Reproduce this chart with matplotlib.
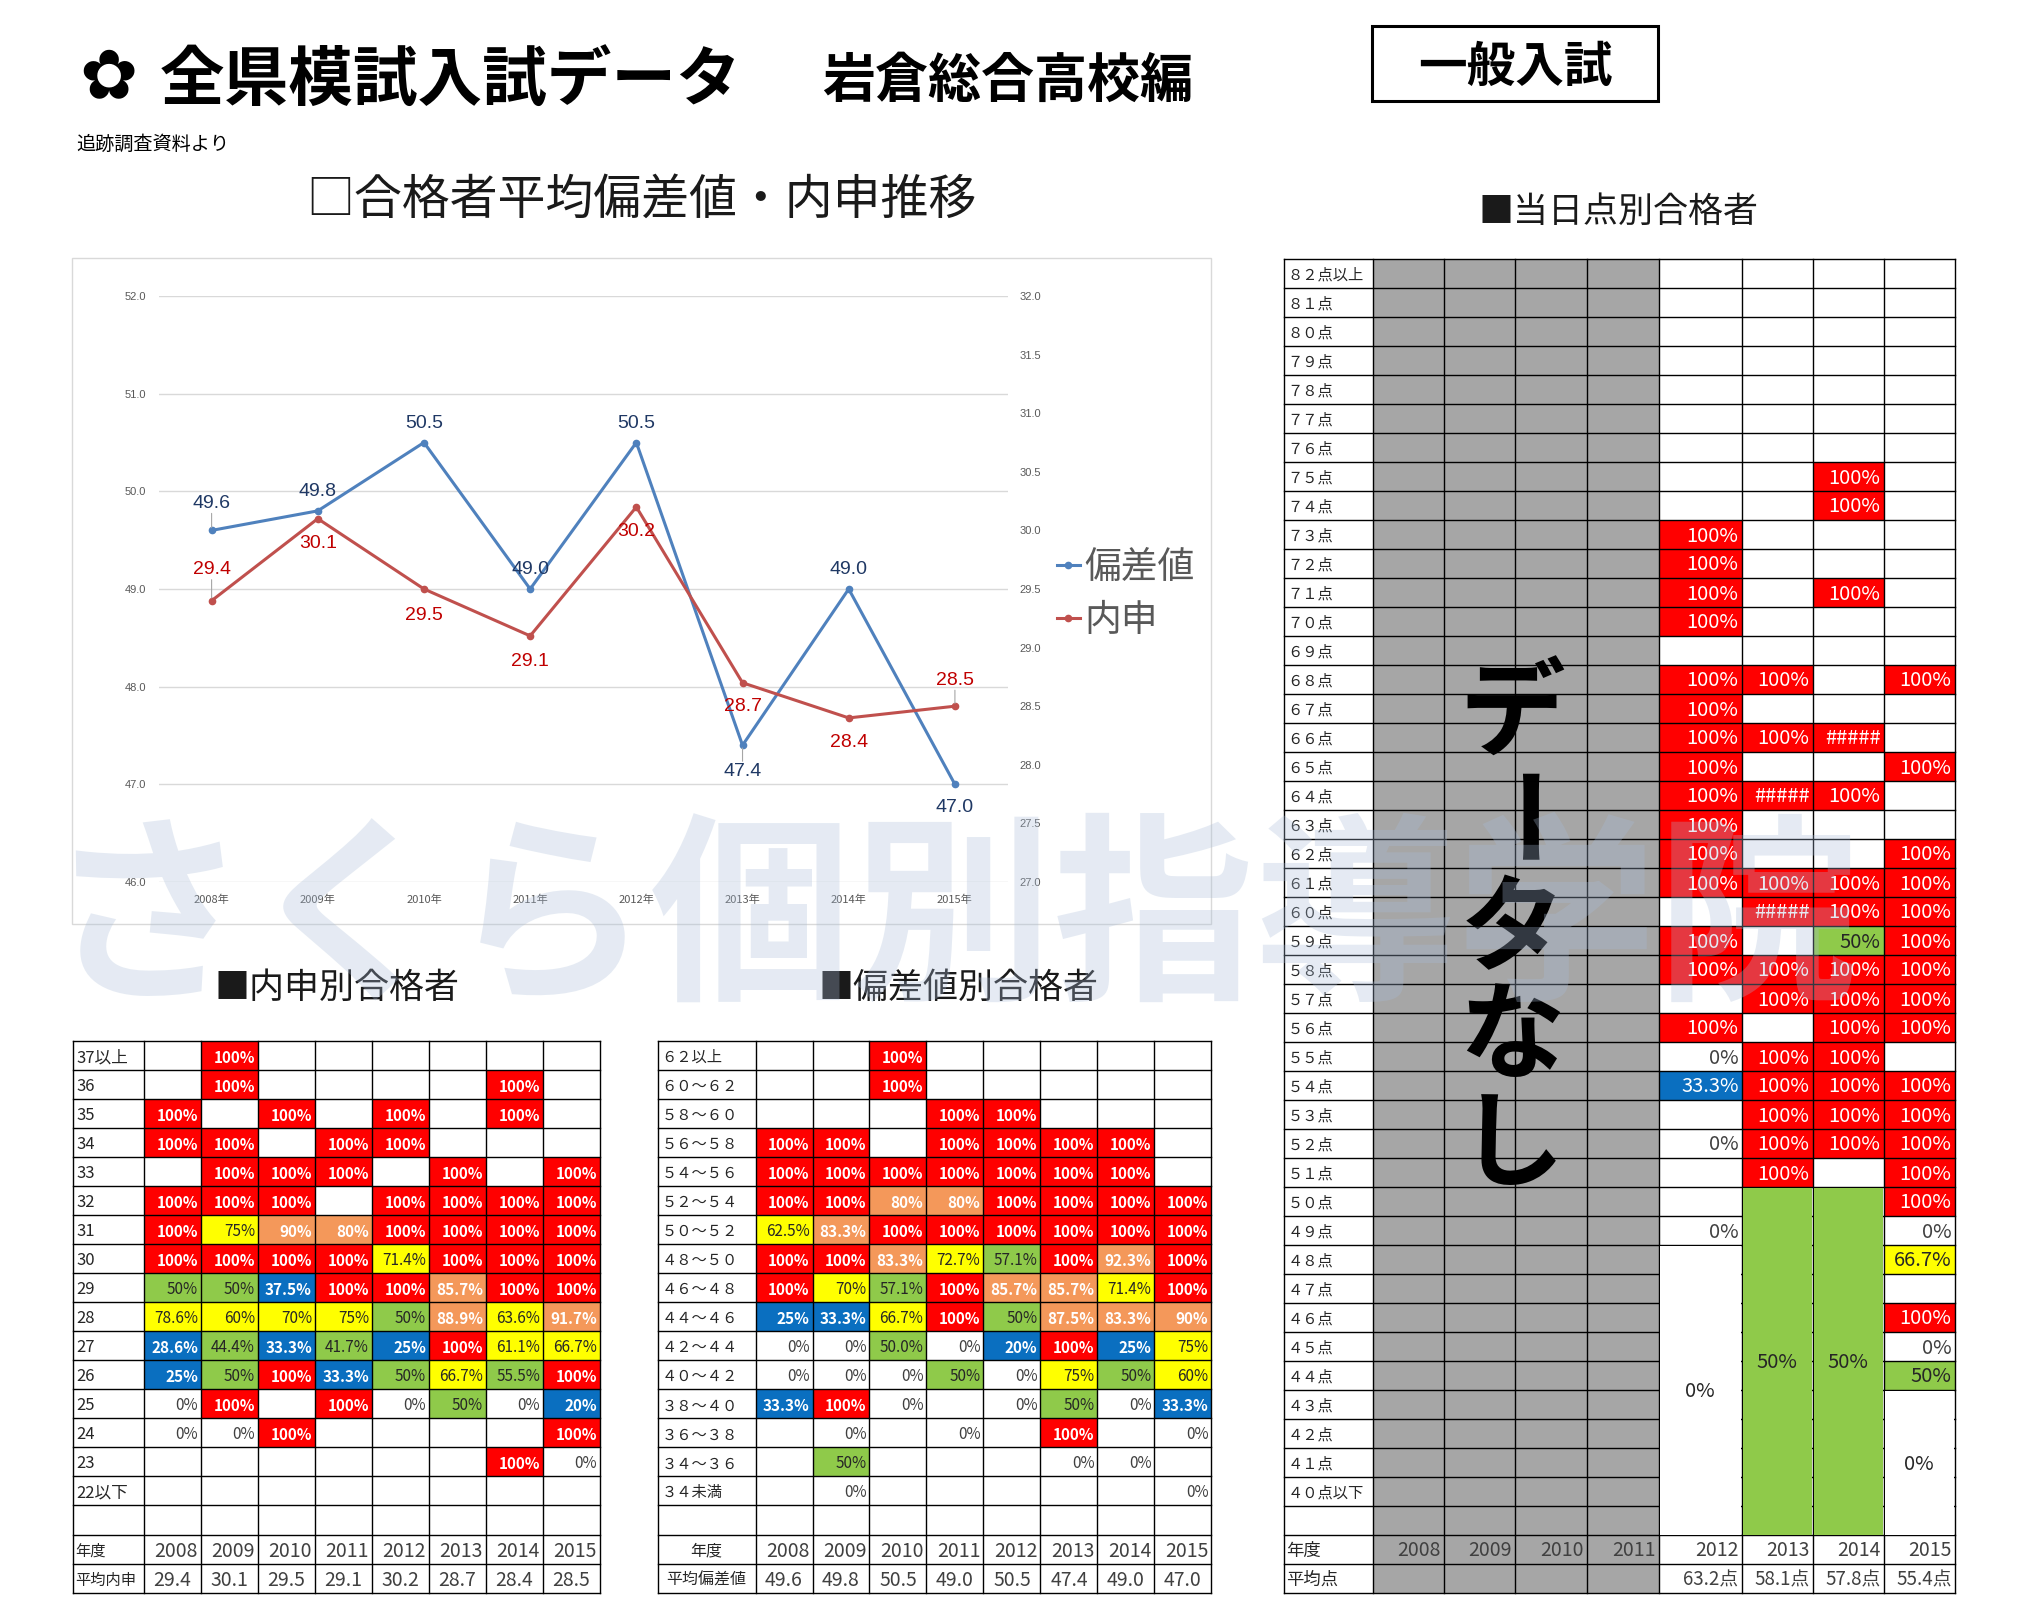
from matplotlib import pyplot as plt
from matplotlib.lines import Line2D
from matplotlib.patches import Rectangle

plt.rcParams['font.family'] = ['Noto Sans CJK JP', 'DejaVu Sans']

W, H = 2027, 1618

years = [2008, 2009, 2010, 2011, 2012, 2013, 2014, 2015]
year_labels = ['2008年', '2009年', '2010年', '2011年', '2012年', '2013年', '2014年', '2015年']
hensachi = [49.6, 49.8, 50.5, 49.0, 50.5, 47.4, 49.0, 47.0]
naishin = [29.4, 30.1, 29.5, 29.1, 30.2, 28.7, 28.4, 28.5]

naishin_rows = ['37以上', '36', '35', '34', '33', '32', '31', '30', '29', '28', '27', '26', '25', '24', '23', '22以下']
naishin_pct = [
    ['', '100%', '', '', '', '', '', ''],
    ['', '100%', '', '', '', '', '100%', ''],
    ['100%', '', '100%', '', '100%', '', '100%', ''],
    ['100%', '100%', '', '100%', '100%', '', '', ''],
    ['', '100%', '100%', '100%', '', '100%', '', '100%'],
    ['100%', '100%', '100%', '', '100%', '100%', '100%', '100%'],
    ['100%', '75%', '90%', '80%', '100%', '100%', '100%', '100%'],
    ['100%', '100%', '100%', '100%', '71.4%', '100%', '100%', '100%'],
    ['50%', '50%', '37.5%', '100%', '100%', '85.7%', '100%', '100%'],
    ['78.6%', '60%', '70%', '75%', '50%', '88.9%', '63.6%', '91.7%'],
    ['28.6%', '44.4%', '33.3%', '41.7%', '25%', '100%', '61.1%', '66.7%'],
    ['25%', '50%', '100%', '33.3%', '50%', '66.7%', '55.5%', '100%'],
    ['0%', '100%', '', '100%', '0%', '50%', '0%', '20%'],
    ['0%', '0%', '100%', '', '', '', '', '100%'],
    ['', '', '', '', '', '', '100%', '0%'],
    ['', '', '', '', '', '', '', ''],
]

hensachi_rows = ['６２以上', '６０～６２', '５８～６０', '５６～５８', '５４～５６', '５２～５４', '５０～５２', '４８～５０',
                 '４６～４８', '４４～４６', '４２～４４', '４０～４２', '３８～４０', '３６～３８', '３４～３６', '３４未満']
hensachi_pct = [
    ['', '', '100%', '', '', '', '', ''],
    ['', '', '100%', '', '', '', '', ''],
    ['', '', '', '100%', '100%', '', '', ''],
    ['100%', '100%', '', '100%', '100%', '100%', '100%', ''],
    ['100%', '100%', '100%', '100%', '100%', '100%', '100%', ''],
    ['100%', '100%', '80%', '80%', '100%', '100%', '100%', '100%'],
    ['62.5%', '83.3%', '100%', '100%', '100%', '100%', '100%', '100%'],
    ['100%', '100%', '83.3%', '72.7%', '57.1%', '100%', '92.3%', '100%'],
    ['100%', '70%', '57.1%', '100%', '85.7%', '85.7%', '71.4%', '100%'],
    ['25%', '33.3%', '66.7%', '100%', '50%', '87.5%', '83.3%', '90%'],
    ['0%', '0%', '50.0%', '0%', '20%', '100%', '25%', '75%'],
    ['0%', '0%', '0%', '50%', '0%', '75%', '50%', '60%'],
    ['33.3%', '100%', '0%', '', '0%', '50%', '0%', '33.3%'],
    ['', '0%', '', '0%', '', '100%', '', '0%'],
    ['', '50%', '', '', '', '0%', '0%', ''],
    ['', '0%', '', '', '', '', '', '0%'],
]

tokuten_rows = ['８２点以上', '８１点', '８０点', '７９点', '７８点', '７７点', '７６点', '７５点', '７４点', '７３点', '７２点',
                '７１点', '７０点', '６９点', '６８点', '６７点', '６６点', '６５点', '６４点', '６３点', '６２点', '６１点',
                '６０点', '５９点', '５８点', '５７点', '５６点', '５５点', '５４点', '５３点', '５２点', '５１点', '５０点',
                '４９点', '４８点', '４７点', '４６点', '４５点', '４４点', '４３点', '４２点', '４１点', '４０点以下']
# 2008-2011 are greyed out, only 2012-2015 hold values
tokuten_pct = [
    ['', '', '', ''], ['', '', '', ''], ['', '', '', ''], ['', '', '', ''],
    ['', '', '', ''], ['', '', '', ''], ['', '', '', ''],
    ['', '', '100%', ''],
    ['', '', '100%', ''],
    ['100%', '', '', ''],
    ['100%', '', '', ''],
    ['100%', '', '100%', ''],
    ['100%', '', '', ''],
    ['', '', '', ''],
    ['100%', '100%', '', '100%'],
    ['100%', '', '', ''],
    ['100%', '100%', '#####', ''],
    ['100%', '', '', '100%'],
    ['100%', '#####', '100%', ''],
    ['100%', '', '', ''],
    ['100%', '', '', '100%'],
    ['100%', '100%', '100%', '100%'],
    ['', '#####', '100%', '100%'],
    ['100%', '', '50%', '100%'],
    ['100%', '100%', '100%', '100%'],
    ['', '100%', '100%', '100%'],
    ['100%', '', '100%', '100%'],
    ['0%', '100%', '100%', ''],
    ['33.3%', '100%', '100%', '100%'],
    ['', '100%', '100%', '100%'],
    ['0%', '100%', '100%', '100%'],
    ['', '100%', '', '100%'],
    ['', '', '', '100%'],
    ['0%', '', '', '0%'],
    ['', '', '', '66.7%'],
    ['', '', '', ''],
    ['', '', '', '100%'],
    ['', '', '', '0%'],
    ['', '', '', '50%'],
    ['', '', '', ''], ['', '', '', ''], ['', '', '', ''], ['', '', '', ''],
]
tokuten_mean = ['', '', '', '', '63.2点', '58.1点', '57.8点', '55.4点']
# merged cells: column, first row, last row, text
tokuten_merged = [(4, 34, 43, '0%'), (5, 32, 43, '50%'), (6, 32, 43, '50%'), (7, 39, 43, '0%')]


def fx(x):
    return x / W


def fy(y):
    return 1 - y / H


def cell_color(text):
    if text == '#####':
        return '#ff0000'
    v = float(text.rstrip('%'))
    if v >= 100:
        return '#ff0000'
    if v >= 80:
        return '#f4985a'
    if v >= 60:
        return '#ffff00'
    if v >= 40:
        return '#8fca4a'
    if v > 0:
        return '#0a6fc0'
    return None


def text_color(text):
    if text == '0%':
        return '#404040'
    if cell_color(text) in ('#ffff00', '#8fca4a'):
        return '#262626'
    return 'white'


def draw_table(left, top, edges, row_h, rows, values, fs_label, fs_cell, fs_foot, mean_row, mean_label,
               center_foot=False, gray_cols=(), merged=(), mean_right=False, bold_cell=True):
    n_rows = len(rows) + 3
    right = edges[-1]
    ax = plt.axes([fx(left), fy(top + n_rows * row_h), fx(right - left), n_rows * row_h / H])
    ax.set_xlim(left, right)
    ax.set_ylim(top + n_rows * row_h, top)
    ax.axis('off')

    def y_at(r):
        return top + r * row_h

    # text sits a little high with this font
    nudge = 2

    # coloured cells
    for r, row in enumerate(values):
        for c, t in enumerate(row):
            if t and cell_color(t):
                ax.add_patch(Rectangle((edges[c + 1], y_at(r)), edges[c + 2] - edges[c + 1], row_h,
                                       fc=cell_color(t), ec='none'))
            if t:
                ax.text(edges[c + 2] - 3, y_at(r + 0.5) + nudge, t, ha='right', va='center', fontsize=fs_cell,
                        color=text_color(t), fontweight='bold' if bold_cell and text_color(t) == 'white' else 'normal')
    for c in gray_cols:
        ax.add_patch(Rectangle((edges[c + 1], top), edges[c + 2] - edges[c + 1], n_rows * row_h,
                               fc='#a6a6a6', ec='none'))

    # grid
    for e in edges:
        ax.plot([e, e], [top, y_at(n_rows)], c='black', lw=1.0, clip_on=False)
    for r in range(n_rows + 1):
        ax.plot([left, right], [y_at(r), y_at(r)], c='black', lw=1.0, clip_on=False)

    for c, r0, r1, t in merged:
        col = cell_color(t) or 'white'
        ax.add_patch(Rectangle((edges[c + 1] + 1, y_at(r0) + 1), edges[c + 2] - edges[c + 1] - 2,
                               (r1 - r0 + 1) * row_h - 1, fc=col, ec='none', zorder=3))
        ax.text((edges[c + 1] + edges[c + 2]) / 2, y_at((r0 + r1 + 1) / 2) + nudge, t, ha='center', va='center',
                fontsize=fs_cell, color='#262626', zorder=4)

    # labels and footer
    for r, lab in enumerate(rows):
        ax.text(left + 4, y_at(r + 0.5) + nudge, lab, ha='left', va='center', fontsize=fs_label, color='#262626')
    yr = len(rows) + 1
    foot_x = (left + edges[1]) / 2 if center_foot else left + 3
    foot_ha = 'center' if center_foot else 'left'
    ax.text(foot_x, y_at(yr + 0.5) + nudge, '年度', ha=foot_ha, va='center', fontsize=fs_foot, color='#262626')
    ax.text(foot_x, y_at(yr + 1.5) + nudge, mean_label, ha=foot_ha, va='center', fontsize=fs_foot, color='#262626')
    for c, year in enumerate(years):
        ax.text(edges[c + 2] - 3, y_at(yr + 0.5) + nudge, str(year), ha='right', va='center', fontsize=14, color='#404040')
        if mean_right:
            ax.text(edges[c + 2] - 3, y_at(yr + 1.5) + nudge, mean_row[c], ha='right', va='center', fontsize=13.5,
                    color='#404040')
        else:
            ax.text((edges[c + 1] + edges[c + 2]) / 2, y_at(yr + 1.5) + nudge, mean_row[c], ha='center', va='center',
                    fontsize=14, color='#404040')
    return ax


fig = plt.figure(figsize=(W / 100, H / 100), dpi=100, facecolor='white')


def put(x, y, s, size, **kw):
    kw.setdefault('ha', 'left')
    kw.setdefault('va', 'center')
    kw.setdefault('color', 'black')
    fig.text(fx(x), fy(y), s, fontsize=size, **kw)


# headings
put(108, 79, '✿', 50, ha='center', family='DejaVu Sans')
put(160, 82, '全県模試入試データ', 46.5, fontweight='bold')
put(822, 81, '岩倉総合高校編', 38.2, fontweight='bold')
fig.add_artist(Rectangle((fx(1372), fy(101)), 286 / W, 75 / H, fc='white', ec='black', lw=2.2,
                         transform=fig.transFigure))
put(1515, 67, '一般入試', 35, ha='center', fontweight='bold')
put(76, 144, '追跡調査資料より', 13.8)
put(306, 200, '□合格者平均偏差値・内申推移', 34.5, color='#1a1a1a')
put(1478, 212, '■当日点別合格者', 25.2, color='#1a1a1a')
put(214, 988, '■内申別合格者', 25.2, color='#1a1a1a')
put(819, 988, '■偏差値別合格者', 25.2, color='#1a1a1a')

# chart frame, behind the axes
fig.add_artist(Rectangle((fx(72), fy(924)), 1139 / W, 666 / H, fc='white', ec='#d9d9d9', lw=1,
                         transform=fig.transFigure, zorder=-1))

# line chart
ax = plt.axes([fx(158.5), fy(882), 849.5 / W, 586 / H])
ax.patch.set_alpha(0)
ax2 = ax.twinx()
ax.set_xlim(-0.5, 7.5)
ax.set_ylim(46, 52)
ax2.set_ylim(27, 32)
xs = list(range(len(years)))
ax.set_yticks(range(46, 53))
ax.set_yticklabels([f'{v:.1f}' for v in range(46, 53)])
ax2.set_yticks([27 + 0.5 * i for i in range(11)])
ax2.set_yticklabels([f'{27 + 0.5 * i:.1f}' for i in range(11)])
ax.set_xticks(xs)
ax.set_xticklabels(year_labels, fontsize=8, color='#595959')
ax.tick_params(axis='x', length=0, pad=9)
ax.tick_params(axis='y', length=0, pad=9, colors='#595959')
ax2.tick_params(axis='y', length=0, pad=8, colors='#595959')
for t in ax.get_yticklabels() + ax2.get_yticklabels():
    t.set_fontfamily('Liberation Sans')
    t.set_fontsize(8)
ax.grid(axis='y', color='#d9d9d9', lw=1)
ax.set_axisbelow(True)
for a in (ax, ax2):
    for s in a.spines.values():
        s.set_visible(False)

BLUE, RED = '#4f81bd', '#c0504d'
ax.plot(xs, hensachi, c=BLUE, lw=2.2, marker='o', ms=4.5)
ax2.plot(xs, naishin, c=RED, lw=2.2, marker='o', ms=4.5)

blue_off = [27, 19, 19, 19, 19, -26, 19, -23]
red_off = [31, -25, -26, -26, -25, -24, -25, 26]
blue_leader = [True, False, False, False, False, True, False, False]
red_leader = [True, False, False, False, False, False, False, True]


def label_points(a, vals, offs, leaders, color):
    for x, v, o, lead in zip(xs, vals, offs, leaders):
        # offset points: 1 px = 0.72 pt at dpi 100
        a.annotate(f'{v:.1f}', (x, v), xytext=(0, o * 0.72), textcoords='offset points', ha='center',
                   va='center', fontsize=14, color=color, family='Liberation Sans')
        if lead:
            sign = 1 if o > 0 else -1
            a.annotate('', (x, v), xytext=(0, sign * (abs(o) - 10) * 0.72), textcoords='offset points',
                       arrowprops=dict(arrowstyle='-', color='#a6a6a6', lw=0.8, shrinkA=0, shrinkB=2))


label_points(ax, hensachi, blue_off, blue_leader, '#1f3864')
label_points(ax2, naishin, red_off, red_leader, '#c00000')

handles = [Line2D([], [], c=BLUE, lw=2.2, marker='o', ms=4.5), Line2D([], [], c=RED, lw=2.2, marker='o', ms=4.5)]
fig.legend(handles, ['偏差値', '内申'], loc='center left', bbox_to_anchor=(fx(1057), fy(594)), frameon=False,
           borderpad=0, borderaxespad=0, fontsize=26.5, handlelength=0.62, handletextpad=0.12, labelspacing=0.38,
           labelcolor='#595959')

# tables
col1 = [72.5, 144] + [144 + 57 * i for i in range(1, 9)]
draw_table(72.5, 1041, col1, 29.03, naishin_rows, naishin_pct, 12, 11, 11, [f'{v:.1f}' for v in naishin], '平均内申')

col2 = [657.5, 755.5] + [755.5 + 57 * i for i in range(1, 9)]
draw_table(657.5, 1041, col2, 29.03, hensachi_rows, hensachi_pct, 11, 11, 11.5, [f'{v:.1f}' for v in hensachi],
           '平均偏差値', center_foot=True)

col3 = [1283.5, 1372.5, 1443.5, 1514.5, 1586.5, 1658.5, 1741.5, 1812.5, 1883.5, 1954.5]
values3 = [['', '', '', ''] + row for row in tokuten_pct]
draw_table(1283.5, 258.5, col3, 29.0, tokuten_rows, values3, 11, 14.5, 12.5, tokuten_mean, '平均点',
           gray_cols=(0, 1, 2, 3), merged=tokuten_merged, mean_right=True, bold_cell=False)

# big vertical note over the grey columns
note_chars = ['デ', 'ー', 'タ', 'な', 'し']
for ch, y in zip(note_chars, [716, 825, 932, 1039, 1147]):
    fig.text(fx(1512), fy(y), ch, fontsize=76, fontweight='bold', ha='center', va='center', color='black',
             rotation=-90 if ch == 'ー' else 0, zorder=5)

# watermark on top of everything
fig.text(fx(952), fy(925), 'さくら個別指導学院', fontsize=145, fontweight='bold', ha='center', va='center',
         color='#a9bcd8', alpha=0.3, zorder=6)

plt.savefig('out.png', dpi=100)
